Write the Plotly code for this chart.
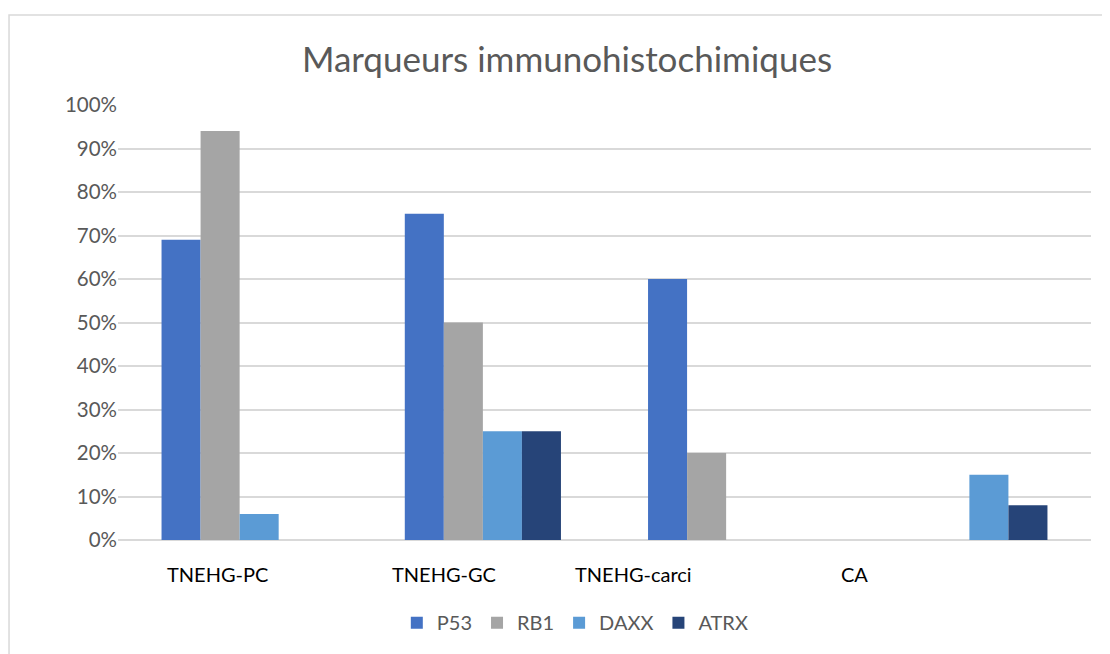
import plotly.graph_objects as go

categories = ["TNEHG-PC", "TNEHG-GC", "TNEHG-carci", "CA"]
p53 = [0.69, 0.75, 0.60, 0.0]
rb1 = [0.94, 0.50, 0.20, 0.0]
daxx = [0.06, 0.25, 0.0, 0.15]
atrx = [0.0, 0.25, 0.0, 0.08]
series_names = ["P53", "RB1", "DAXX", "ATRX"]
colors = ["#4472C4", "#A5A5A5", "#5B9BD5", "#264478"]
label_shift = [-22, -39, -93, -115]
y_ticks = [0, 0.1, 0.2, 0.3, 0.4, 0.5, 0.6, 0.7, 0.8, 0.9, 1.0]

FONT = "Lato"
W, H = 1102, 646  # page body has an 8px margin

fig = go.Figure()
for name, vals, col in zip(series_names, [p53, rb1, daxx, atrx], colors):
    fig.add_trace(go.Bar(name=name, x=categories, y=vals, marker_color=col,
                         marker_line_width=0))

for cat, sh in zip(categories, label_shift):
    fig.add_annotation(x=cat, y=0, xref="x", yref="y", text=cat, showarrow=False,
                       xshift=sh, yshift=-34, font=dict(family=FONT, size=20, color="#000000"))

fig.add_shape(type="rect", xref="paper", yref="paper", x0=-0.112, x1=1.05, y0=-0.35, y1=1.207,
              line=dict(color="#D9D9D9", width=1.5), fillcolor="rgba(0,0,0,0)", layer="below")

fig.update_layout(
    width=W, height=H,
    margin=dict(l=110, r=19, t=97, b=114),
    paper_bgcolor="white", plot_bgcolor="white",
    barmode="group", bargap=0.358, bargroupgap=0,
    title=dict(text="Marqueurs immunohistochimiques", x=559/W, xref="container", xanchor="center",
               y=1-52/H, yref="container", yanchor="middle",
               font=dict(family=FONT, size=35, color="#595959")),
    legend=dict(orientation="h", x=0.47, xanchor="center", y=-0.19, yanchor="middle",
                font=dict(family=FONT, size=20, color="#595959"), itemwidth=30, traceorder="normal"),
    xaxis=dict(showticklabels=False, showgrid=False, showline=False, zeroline=False, ticks=""),
    yaxis=dict(range=[0, 1.0], tickvals=y_ticks, tickformat=".0%", showgrid=True,
               gridcolor="#D9D9D9", gridwidth=1.5, zeroline=True, zerolinecolor="#D9D9D9",
               zerolinewidth=1.5, showline=False, ticks="", ticklen=0,
               tickfont=dict(family=FONT, size=20.5, color="#595959")),
)

fig.write_html("out.html")
